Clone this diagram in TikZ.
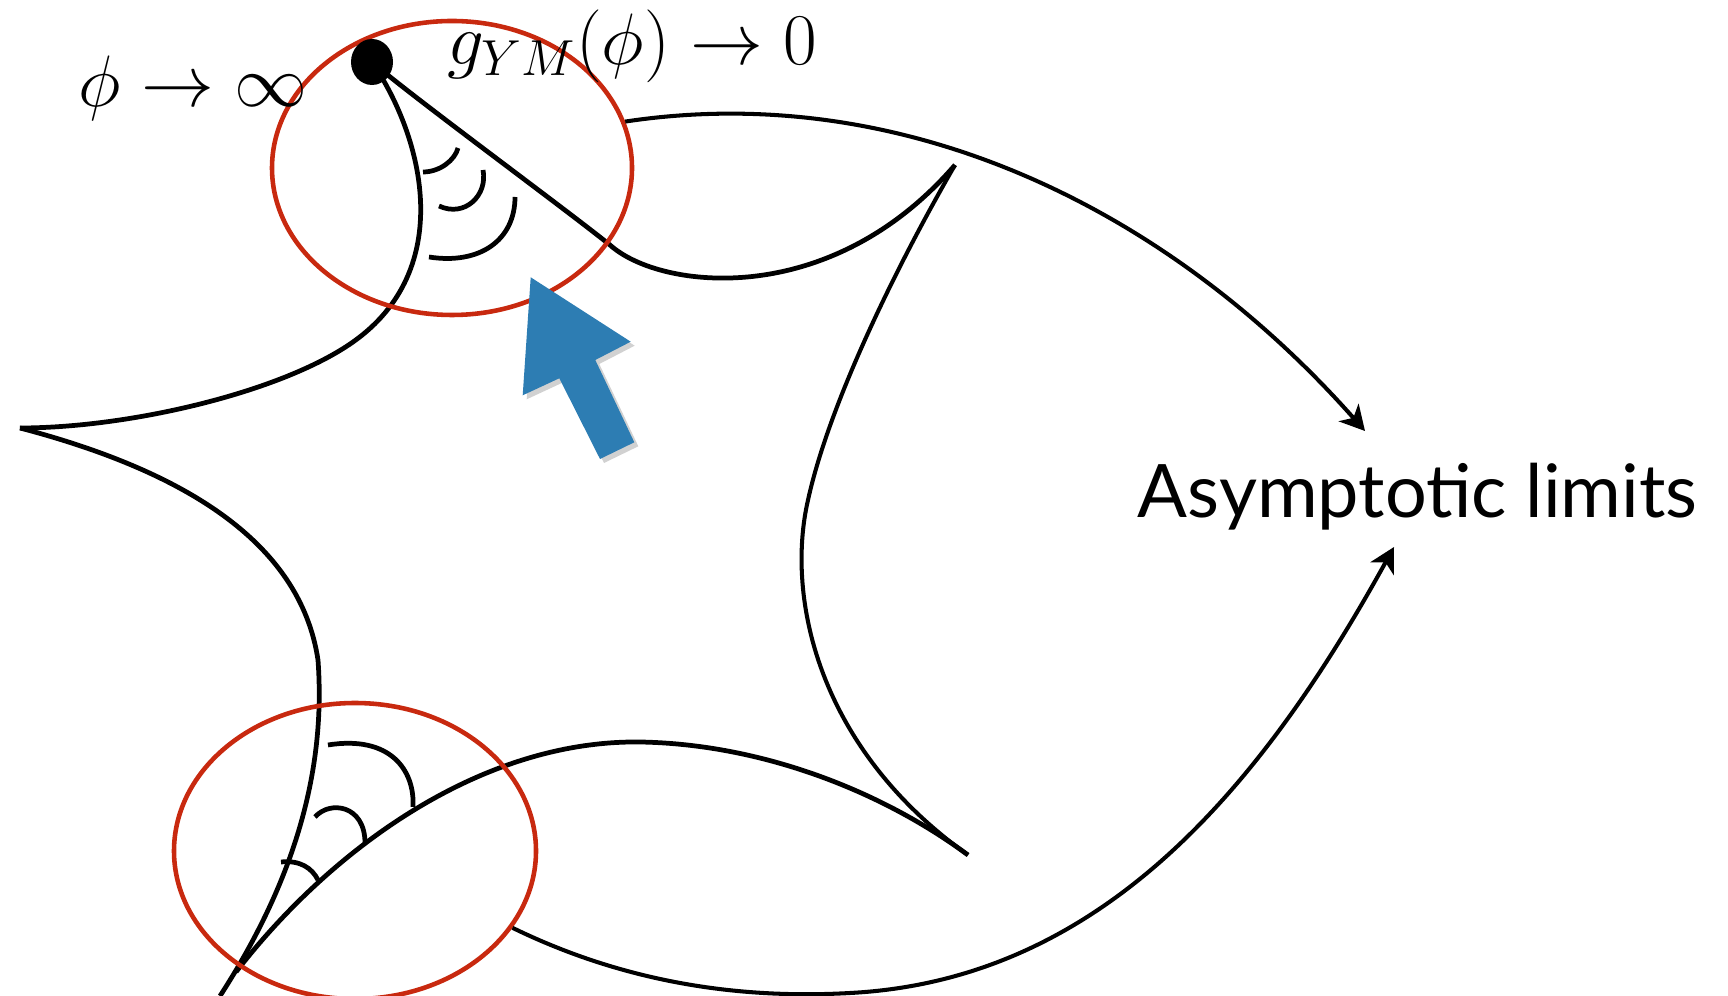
\documentclass[tikz,border=0pt]{standalone}
\usepackage{fontspec}
\newfontfamily\labelfont{Lato}
\usetikzlibrary{positioning,arrows.meta,shapes.geometric,shadows}
\definecolor{ink}    {HTML}{000000}
\definecolor{rim}    {HTML}{C8290F}
\definecolor{pointer}{HTML}{2D7DB3}
\tikzset{
  >=stealth,
  % --- strokes
  bdry/.style     = {draw=ink, line width=1.35pt},
  bdrythin/.style = {bdry, line width=1.15pt},
  anglemark/.style= {draw=ink, line width=1.35pt},
  ring/.style     = {ellipse, draw=rim, line width=1.3pt, inner sep=0pt},
  e/.style        = {-{Stealth[length=7pt,width=7.5pt,inset=2pt]}, draw=ink, line width=1.15pt},
  % --- text
  lbl/.style      = {font=\fontsize{19.4}{22}\selectfont, inner sep=0pt},
  tag/.style      = {font=\labelfont\fontsize{21}{25}\selectfont, inner sep=0pt},
}

\begin{document}
\begin{tikzpicture}[x=0.1mm,y=-0.1mm]
  \useasboundingbox (0,0) rectangle (1728,996);
  % corners of the region
  \coordinate (tip)   at (372,62);
  \coordinate (lcusp) at (20,428);
  \coordinate (rcusp) at (955,165);
  \coordinate (tail)  at (968,855);
  \coordinate (foot)  at (220,996);
  \coordinate (merge) at (236,972);
  \coordinate (elbow) at (353,342);
  \coordinate (knee)  at (318,660);
  \coordinate (bend)  at (610,245);
  \coordinate (waist) at (808,500);
  \coordinate (belly) at (640,742);
  \coordinate (uptip) at (1365,431);
  \coordinate (lotip) at (1394,547);

  % boundary of the moduli space
  \draw[bdry] (tip) .. controls (425,140) and (455,270) .. (elbow)
              .. controls (282,392) and (130,428) .. (lcusp);
  \draw[bdry] (lcusp) .. controls (180,470) and (300,540) .. (knee)
              .. controls (326,770) and (295,880) .. (foot);
  \draw[bdry] (tip) .. controls (410,95) and (560,205) .. (bend)
              .. controls (660,290) and (830,310) .. (rcusp);
  \draw[bdrythin] (rcusp) .. controls (900,260) and (830,400) .. (waist)
              .. controls (785,600) and (820,750) .. (tail);
  \draw[bdry] (merge) .. controls (330,850) and (480,740) .. (belly)
              .. controls (760,744) and (880,790) .. (tail);

  % angles closing up
  \draw[anglemark] (423,172) .. controls (440,172) and (455,160) .. (458,148);
  \draw[anglemark] (439,206) .. controls (465,218) and (488,195) .. (483,170);
  \draw[anglemark] (429,257) .. controls (480,265) and (515,240) .. (515,197);
  \draw[anglemark] (281,862) .. controls (300,860) and (312,868) .. (318,880);
  \draw[anglemark] (315,817) .. controls (330,800) and (365,805) .. (365,843);
  \draw[anglemark] (328,745) .. controls (390,735) and (415,770) .. (413,807);

  % limits
  \node[ring, minimum width=36mm, minimum height=29.4mm] (upring) at (452,168) {};
  \node[ring, minimum width=36.2mm, minimum height=29.6mm] (lowring) at (355,851) {};
  \node[ellipse, fill=ink, minimum width=4.2mm, minimum height=4.6mm, inner sep=0pt] (pt) at (tip) {};

  \node[lbl] (phiinf) at (193,88) {$\phi\to\infty$};
  \node[lbl] (gym) at (632,46) {$g_{YM}(\phi)\to 0$};
  \node[tag, anchor=base west] (asym) at (1137,518) {Asymptotic limits};

  \draw[e] (upring.15) .. controls (900,80) and (1165,205) .. (uptip);
  \draw[e] (lowring.-26) .. controls (640,990) and (760,998) .. (850,993)
           .. controls (1100,980) and (1260,790) .. (lotip);

  % pointer
  \fill[black, opacity=.18] ([shift={(4,4)}]530.7,277.3) -- ++(100,64.4) -- ++(-35.4,18.3)
       -- ++(39,82.3) -- ++(-34.3,16.7) -- ++(-40.7,-80.7) -- ++(-36.6,17) -- cycle;
  \fill[pointer] (530.7,277.3) -- (630.7,341.7) -- (595.3,360) -- (634.3,442.3)
       -- (600,459) -- (559.3,378.3) -- (522.7,395.3) -- cycle;
\end{tikzpicture}
\end{document}
